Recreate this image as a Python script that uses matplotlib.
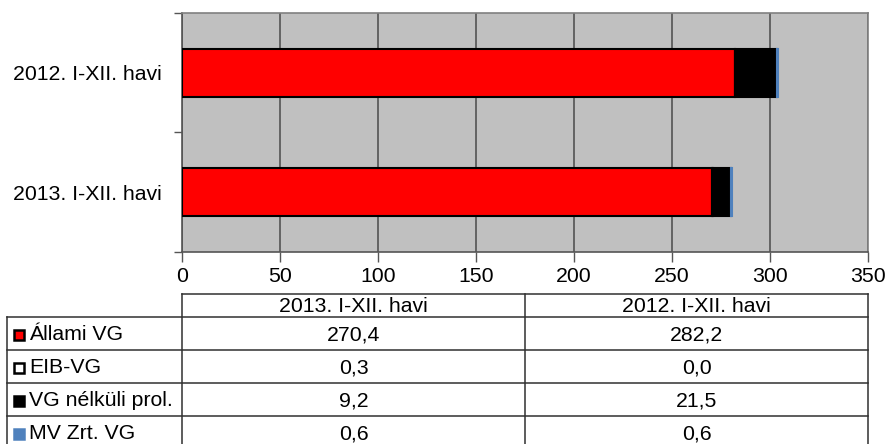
import matplotlib
matplotlib.use("Agg")
import matplotlib.pyplot as plt
from matplotlib.patches import Rectangle
from matplotlib.lines import Line2D
import numpy as np

plt.rcParams['font.family'] = ['Liberation Sans', 'DejaVu Sans']

categories = ["2013. I-XII. havi", "2012. I-XII. havi"]
series_names = ["Állami VG", "EIB-VG", "VG nélküli prol.", "MV Zrt. VG"]
allami = [270.4, 282.2]
eib = [0.3, 0.0]
vg_nelkuli = [9.2, 21.5]
mv_zrt = [0.6, 0.6]
series_values = [allami, eib, vg_nelkuli, mv_zrt]
series_colors = ["#FF0000", "#FFFFFF", "#000000", "#4F81BD"]
series_edges = ["#000000", "#000000", "#000000", "#4F81BD"]
x_ticks = [0, 50, 100, 150, 200, 250, 300, 350]

W, H = 888, 444
fig = plt.figure(figsize=(W / 100, H / 100), dpi=100)
FS = 15.3

# chart axes (pixel layout)
L, R, T, B = 182, 868, 13, 252
ax = fig.add_axes([L / W, 1 - B / H, (R - L) / W, (B - T) / H])
ax.set_facecolor("#C0C0C0")

ypos = np.arange(len(categories))
left = np.zeros(len(categories))
for vals, c, ec in zip(series_values, series_colors, series_edges):
    ax.barh(ypos, vals, left=left, height=0.40, color=c, edgecolor=ec,
            linewidth=1.5, zorder=3)
    left = left + np.array(vals)

ax.set_xlim(0, 350)
ax.set_ylim(-0.5, len(categories) - 0.5)
ax.set_xticks(x_ticks)
ax.set_xticklabels([str(t) for t in x_ticks], fontsize=FS)
ax.xaxis.grid(True, color="#4a4a4a", linewidth=1.1, zorder=1)
ax.set_axisbelow(True)
ax.set_yticks(np.arange(-0.5, len(categories)), minor=False)
ax.set_yticklabels([])
ax.set_yticks(ypos, minor=True)
ax.set_yticklabels(categories, minor=True, fontsize=FS)
ax.tick_params(axis='y', which='minor', length=0, pad=14.5)
ax.tick_params(axis='y', which='major', length=6, color="#555555", width=1)
ax.tick_params(axis='x', length=7, color="#555555", width=1, pad=4)
for s in ax.spines.values():
    s.set_color("#808080")
    s.set_linewidth(1.2)
ax.spines['left'].set_color("#555555")
ax.spines['bottom'].set_color("#555555")

# data table (in figure pixel coordinates)
tab = fig.add_axes([0, 0, 1, 1])
tab.set_xlim(0, W)
tab.set_ylim(H, 0)
tab.axis('off')

x0, x1, x2, x3 = 7, 182, 525, 868
y_head_top, y_head_bot = 294, 317
row_h = 33
lc = "#303030"
lw = 1.1
# header
tab.add_line(Line2D([x1, x3], [y_head_top, y_head_top], color=lc, lw=lw))
tab.add_line(Line2D([x0, x3], [y_head_bot, y_head_bot], color=lc, lw=lw))
col_x = [x1, x2, x3]
for cx in col_x:
    tab.add_line(Line2D([cx, cx], [y_head_top, H + 10], color=lc, lw=lw))
tab.add_line(Line2D([x0, x0], [y_head_bot, H + 10], color=lc, lw=lw))
col_centers = [(x1 + x2) / 2, (x2 + x3) / 2]
for j, cat in enumerate(categories):
    tab.text(col_centers[j], (y_head_top + y_head_bot) / 2 + 1, cat,
             ha='center', va='center', fontsize=FS)
for i, (name, vals) in enumerate(zip(series_names, series_values)):
    yt = y_head_bot + i * row_h
    yb = yt + row_h
    tab.add_line(Line2D([x0, x3], [yb, yb], color=lc, lw=lw))
    yc = (yt + yb) / 2
    sq = 10
    tab.add_patch(Rectangle((14, yc - sq / 2 + 1), sq, sq,
                            facecolor=series_colors[i],
                            edgecolor=series_edges[i] if i < 3 else series_colors[i],
                            linewidth=1.8))
    tab.text(29, yc + 1, name, ha='left', va='center', fontsize=FS)
    for j, v in enumerate(vals):
        tab.text(col_centers[j], yc + 1, f"{v:.1f}".replace('.', ','),
                 ha='center', va='center', fontsize=FS)

fig.savefig("out.png", dpi=100)
